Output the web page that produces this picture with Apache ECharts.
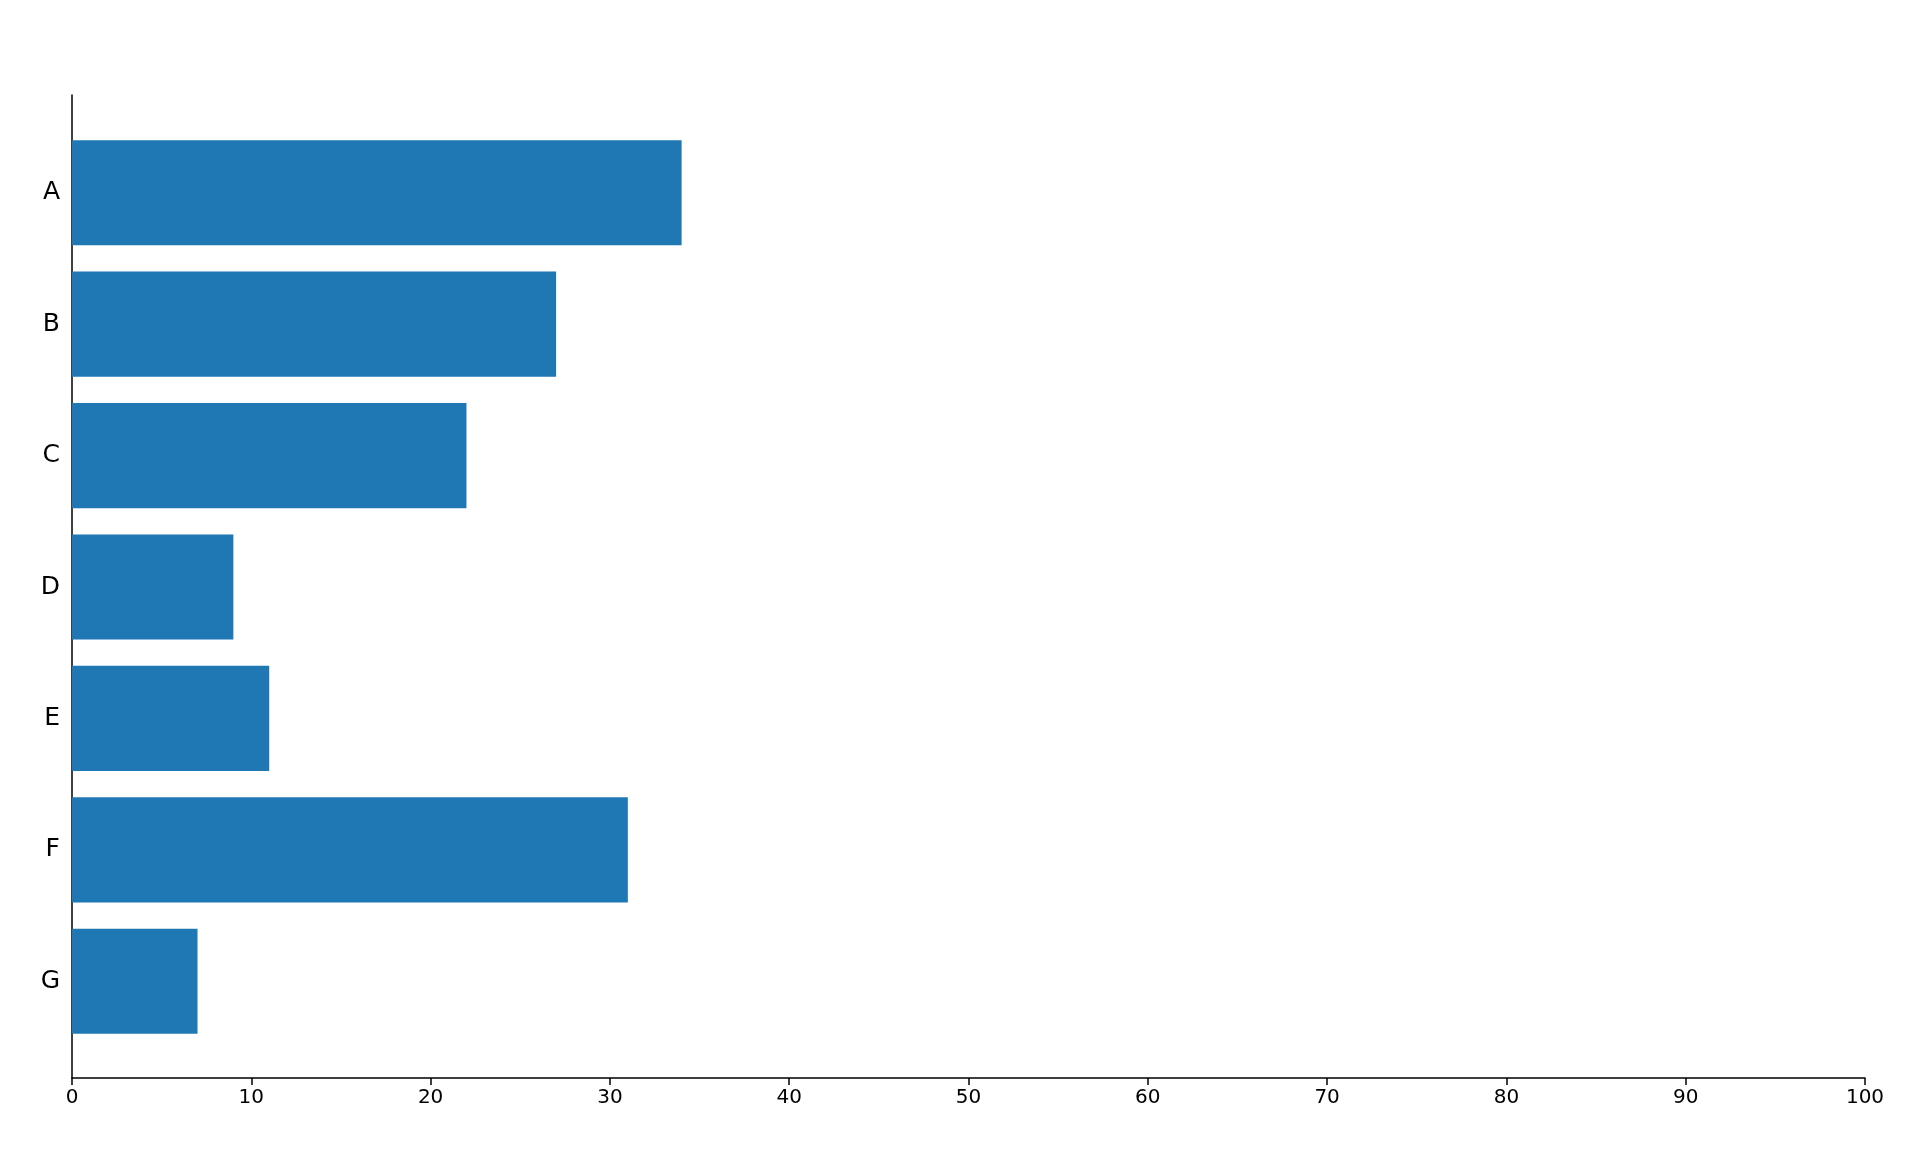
<!DOCTYPE html><html><head><meta charset="utf-8"><script src="https://cdn.jsdelivr.net/npm/echarts@6/dist/echarts.min.js"></script>
<style>html,body{margin:0;background:#fff}#c{width:1920px;height:1152px}</style></head><body><div id="c"></div><script>
const categories=['A','B','C','D','E','F','G'];
const values=[34,27,22,9,11,31,7];
const xTicks={min:0,max:100,interval:10};
const chart=echarts.init(document.getElementById('c'));
chart.setOption({animation:false,
grid:[{left:72,right:55,top:127,bottom:105},{left:72,right:55,top:95,bottom:74}],
xAxis:[{gridIndex:0,type:'value',min:0,max:100,show:false},
{gridIndex:1,type:'value',min:xTicks.min,max:xTicks.max,interval:xTicks.interval,splitLine:{show:false},
axisLine:{lineStyle:{color:'#000',width:1.5}},axisTick:{length:7,lineStyle:{color:'#000',width:1.5}},
axisLabel:{color:'#000',fontSize:20,margin:10,fontFamily:'DejaVu Sans'}}],
yAxis:[{gridIndex:0,type:'category',data:categories,inverse:true,axisLine:{show:false},
axisTick:{alignWithLabel:true,length:7,lineStyle:{color:'#000',width:1.5}},
axisLabel:{color:'#000',fontSize:25,margin:12,fontFamily:'DejaVu Sans'}},
{gridIndex:1,type:'value',min:0,max:1,axisLine:{show:true,lineStyle:{color:'#000',width:1.5}},axisTick:{show:false},axisLabel:{show:false},splitLine:{show:false}}],
series:[{type:'bar',xAxisIndex:0,yAxisIndex:0,data:values,barCategoryGap:'20%',itemStyle:{color:'#1f77b4'}}]});
</script></body></html>
